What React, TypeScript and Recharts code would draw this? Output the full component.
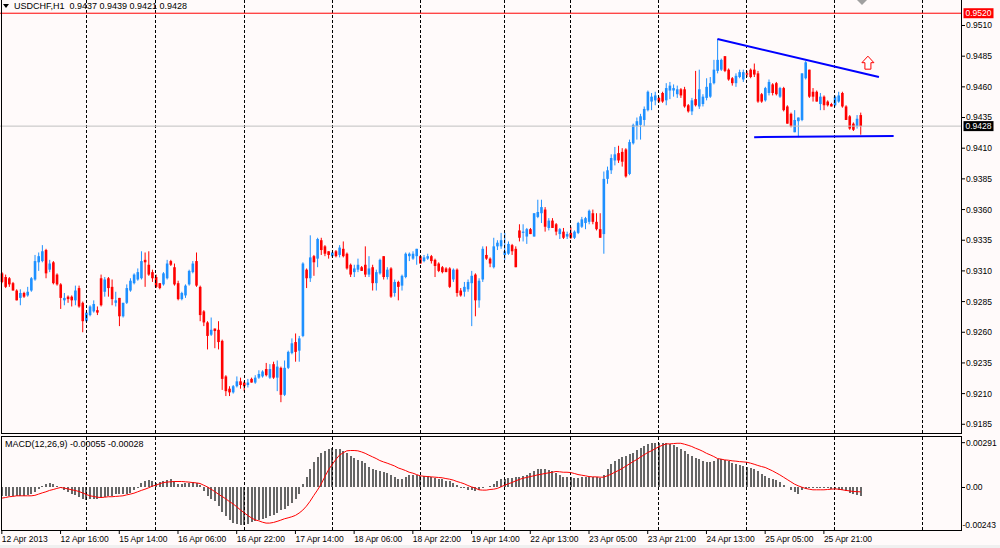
import React from "react";
import { ComposedChart, Bar, Line, XAxis, YAxis, ReferenceLine, ReferenceDot } from "recharts";

const FONT = "'Liberation Sans', Arial, sans-serif";
const BG = "#fffafa";
const BULL = "#1e90ff";
const BEAR = "#ff0000";

// USDCHF H1 bars, left to right
const opens = [
  0.9308, 0.9305, 0.9304, 0.9300, 0.9294, 0.9288, 0.9292, 0.9290, 0.9294, 0.9303,
  0.9317, 0.9318, 0.9327, 0.9311, 0.9317, 0.9307, 0.9299, 0.9286, 0.9289, 0.9289,
  0.9286, 0.9296, 0.9284, 0.9269, 0.9274, 0.9277, 0.9278, 0.9304, 0.9293, 0.9304,
  0.9297, 0.9284, 0.9288, 0.9273, 0.9284, 0.9294, 0.9300, 0.9303, 0.9304, 0.9319,
  0.9315, 0.9309, 0.9305, 0.9300, 0.9299, 0.9304, 0.9318, 0.9313, 0.9300, 0.9287,
  0.9290, 0.9299, 0.9309, 0.9318, 0.9297, 0.9277, 0.9268, 0.9258, 0.9263, 0.9262,
  0.9253, 0.9224, 0.9214, 0.9211, 0.9216, 0.9220, 0.9219, 0.9217, 0.9222, 0.9219,
  0.9223, 0.9224, 0.9230, 0.9223, 0.9234, 0.9223, 0.9231, 0.9209, 0.9231, 0.9243,
  0.9252, 0.9245, 0.9257, 0.9311, 0.9304, 0.9322, 0.9320, 0.9335, 0.9330, 0.9326,
  0.9322, 0.9326, 0.9323, 0.9328, 0.9324, 0.9315, 0.9309, 0.9311, 0.9313, 0.9315,
  0.9307, 0.9313, 0.9300, 0.9308, 0.9322, 0.9305, 0.9312, 0.9292, 0.9301, 0.9298,
  0.9305, 0.9322, 0.9320, 0.9322, 0.9322, 0.9318, 0.9320, 0.9322, 0.9319, 0.9316,
  0.9313, 0.9312, 0.9312, 0.9303, 0.9311, 0.9294, 0.9293, 0.9295, 0.9300, 0.9307,
  0.9286, 0.9303, 0.9323, 0.9320, 0.9313, 0.9330, 0.9330, 0.9323, 0.9324, 0.9331,
  0.9328, 0.9343, 0.9341, 0.9338, 0.9344, 0.9338, 0.9354, 0.9357, 0.9360, 0.9345,
  0.9351, 0.9348, 0.9340, 0.9342, 0.9338, 0.9341, 0.9337, 0.9341, 0.9346, 0.9349,
  0.9350, 0.9357, 0.9350, 0.9344, 0.9340, 0.9385, 0.9392, 0.9400, 0.9406, 0.9407,
  0.9409, 0.9389, 0.9414, 0.9428, 0.9429, 0.9433, 0.9441, 0.9448, 0.9449, 0.9451,
  0.9455, 0.9449, 0.9457, 0.9457, 0.9454, 0.9458, 0.9458, 0.9445, 0.9440, 0.9450,
  0.9444, 0.9446, 0.9451, 0.9452, 0.9463, 0.9473, 0.9474, 0.9485, 0.9474, 0.9467,
  0.9463, 0.9468, 0.9466, 0.9471, 0.9474, 0.9474, 0.9471, 0.9454, 0.9449, 0.9455,
  0.9462, 0.9463, 0.9452, 0.9459, 0.9444, 0.9438, 0.9423, 0.9432, 0.9433, 0.9467,
  0.9474, 0.9456, 0.9456, 0.9446, 0.9452, 0.9448, 0.9446, 0.9445, 0.9448, 0.9455,
  0.9444, 0.9436, 0.9430, 0.9428, 0.9437,
];

const highs = [
  0.9309, 0.9307, 0.9305, 0.9301, 0.9295, 0.9295, 0.9293, 0.9297, 0.9305, 0.9323,
  0.9325, 0.9331, 0.9328, 0.9319, 0.9318, 0.9308, 0.9300, 0.9292, 0.9290, 0.9290,
  0.9298, 0.9298, 0.9285, 0.9278, 0.9282, 0.9286, 0.9281, 0.9307, 0.9305, 0.9305,
  0.9303, 0.9293, 0.9288, 0.9284, 0.9299, 0.9304, 0.9308, 0.9312, 0.9326, 0.9325,
  0.9326, 0.9311, 0.9307, 0.9300, 0.9309, 0.9319, 0.9319, 0.9316, 0.9302, 0.9293,
  0.9299, 0.9311, 0.9318, 0.9325, 0.9298, 0.9278, 0.9269, 0.9272, 0.9263, 0.9269,
  0.9254, 0.9225, 0.9216, 0.9217, 0.9224, 0.9223, 0.9220, 0.9222, 0.9223, 0.9225,
  0.9229, 0.9229, 0.9235, 0.9234, 0.9236, 0.9237, 0.9232, 0.9237, 0.9245, 0.9255,
  0.9259, 0.9257, 0.9317, 0.9312, 0.9339, 0.9323, 0.9337, 0.9337, 0.9331, 0.9326,
  0.9325, 0.9327, 0.9331, 0.9334, 0.9325, 0.9316, 0.9315, 0.9320, 0.9314, 0.9330,
  0.9322, 0.9315, 0.9311, 0.9320, 0.9322, 0.9313, 0.9313, 0.9303, 0.9302, 0.9307,
  0.9325, 0.9325, 0.9326, 0.9328, 0.9323, 0.9323, 0.9324, 0.9323, 0.9320, 0.9317,
  0.9314, 0.9313, 0.9313, 0.9312, 0.9312, 0.9296, 0.9301, 0.9303, 0.9310, 0.9308,
  0.9304, 0.9330, 0.9330, 0.9321, 0.9337, 0.9335, 0.9341, 0.9341, 0.9334, 0.9332,
  0.9330, 0.9348, 0.9348, 0.9345, 0.9345, 0.9357, 0.9368, 0.9368, 0.9362, 0.9353,
  0.9353, 0.9349, 0.9345, 0.9345, 0.9342, 0.9346, 0.9343, 0.9350, 0.9354, 0.9354,
  0.9360, 0.9360, 0.9357, 0.9357, 0.9391, 0.9395, 0.9405, 0.9411, 0.9412, 0.9410,
  0.9410, 0.9417, 0.9430, 0.9435, 0.9438, 0.9444, 0.9457, 0.9455, 0.9456, 0.9452,
  0.9456, 0.9463, 0.9464, 0.9462, 0.9461, 0.9459, 0.9460, 0.9446, 0.9451, 0.9473,
  0.9474, 0.9454, 0.9467, 0.9468, 0.9482, 0.9499, 0.9483, 0.9485, 0.9475, 0.9468,
  0.9471, 0.9474, 0.9474, 0.9473, 0.9475, 0.9479, 0.9473, 0.9455, 0.9460, 0.9466,
  0.9463, 0.9464, 0.9460, 0.9460, 0.9445, 0.9439, 0.9441, 0.9435, 0.9471, 0.9481,
  0.9474, 0.9459, 0.9457, 0.9455, 0.9453, 0.9449, 0.9447, 0.9453, 0.9456, 0.9456,
  0.9445, 0.9437, 0.9431, 0.9437, 0.9439,
];

const lows = [
  0.9300, 0.9296, 0.9297, 0.9294, 0.9286, 0.9282, 0.9288, 0.9289, 0.9293, 0.9302,
  0.9310, 0.9317, 0.9304, 0.9309, 0.9299, 0.9298, 0.9279, 0.9282, 0.9284, 0.9281,
  0.9282, 0.9280, 0.9260, 0.9268, 0.9273, 0.9276, 0.9274, 0.9281, 0.9289, 0.9289,
  0.9282, 0.9281, 0.9265, 0.9272, 0.9283, 0.9293, 0.9299, 0.9302, 0.9303, 0.9297,
  0.9306, 0.9301, 0.9296, 0.9295, 0.9298, 0.9303, 0.9314, 0.9298, 0.9286, 0.9286,
  0.9288, 0.9298, 0.9308, 0.9297, 0.9269, 0.9265, 0.9246, 0.9257, 0.9247, 0.9246,
  0.9213, 0.9208, 0.9208, 0.9210, 0.9215, 0.9214, 0.9212, 0.9215, 0.9219, 0.9218,
  0.9222, 0.9223, 0.9224, 0.9222, 0.9222, 0.9212, 0.9203, 0.9208, 0.9230, 0.9242,
  0.9236, 0.9236, 0.9256, 0.9296, 0.9301, 0.9306, 0.9313, 0.9323, 0.9322, 0.9320,
  0.9321, 0.9321, 0.9321, 0.9321, 0.9311, 0.9305, 0.9305, 0.9309, 0.9310, 0.9305,
  0.9305, 0.9294, 0.9294, 0.9307, 0.9303, 0.9303, 0.9288, 0.9289, 0.9286, 0.9294,
  0.9304, 0.9318, 0.9319, 0.9315, 0.9316, 0.9317, 0.9319, 0.9316, 0.9305, 0.9309,
  0.9308, 0.9309, 0.9296, 0.9301, 0.9289, 0.9289, 0.9289, 0.9293, 0.9265, 0.9273,
  0.9280, 0.9301, 0.9319, 0.9313, 0.9312, 0.9327, 0.9328, 0.9319, 0.9323, 0.9323,
  0.9313, 0.9334, 0.9334, 0.9332, 0.9340, 0.9338, 0.9353, 0.9349, 0.9342, 0.9343,
  0.9345, 0.9339, 0.9336, 0.9336, 0.9336, 0.9336, 0.9336, 0.9340, 0.9345, 0.9344,
  0.9348, 0.9348, 0.9343, 0.9337, 0.9324, 0.9381, 0.9389, 0.9396, 0.9398, 0.9395,
  0.9386, 0.9388, 0.9413, 0.9417, 0.9417, 0.9428, 0.9440, 0.9441, 0.9445, 0.9447,
  0.9447, 0.9445, 0.9450, 0.9452, 0.9451, 0.9451, 0.9443, 0.9439, 0.9437, 0.9444,
  0.9442, 0.9444, 0.9449, 0.9451, 0.9462, 0.9471, 0.9473, 0.9472, 0.9465, 0.9461,
  0.9460, 0.9467, 0.9464, 0.9468, 0.9467, 0.9468, 0.9447, 0.9447, 0.9448, 0.9453,
  0.9453, 0.9453, 0.9451, 0.9440, 0.9430, 0.9427, 0.9423, 0.9419, 0.9432, 0.9466,
  0.9451, 0.9448, 0.9448, 0.9441, 0.9441, 0.9444, 0.9444, 0.9444, 0.9447, 0.9443,
  0.9433, 0.9425, 0.9424, 0.9426, 0.9421,
];

const closes = [
  0.9301, 0.9297, 0.9299, 0.9294, 0.9286, 0.9292, 0.9289, 0.9293, 0.9304, 0.9318,
  0.9322, 0.9326, 0.9308, 0.9316, 0.9300, 0.9299, 0.9288, 0.9288, 0.9287, 0.9286,
  0.9294, 0.9281, 0.9269, 0.9276, 0.9281, 0.9283, 0.9276, 0.9282, 0.9303, 0.9296,
  0.9287, 0.9286, 0.9273, 0.9284, 0.9296, 0.9302, 0.9307, 0.9309, 0.9318, 0.9317,
  0.9307, 0.9304, 0.9297, 0.9296, 0.9308, 0.9316, 0.9315, 0.9299, 0.9287, 0.9292,
  0.9298, 0.9310, 0.9316, 0.9298, 0.9274, 0.9268, 0.9257, 0.9262, 0.9261, 0.9252,
  0.9222, 0.9212, 0.9211, 0.9216, 0.9220, 0.9217, 0.9216, 0.9219, 0.9219, 0.9223,
  0.9226, 0.9228, 0.9225, 0.9230, 0.9223, 0.9232, 0.9209, 0.9231, 0.9244, 0.9251,
  0.9244, 0.9255, 0.9316, 0.9304, 0.9321, 0.9317, 0.9336, 0.9327, 0.9324, 0.9323,
  0.9325, 0.9322, 0.9329, 0.9322, 0.9312, 0.9307, 0.9312, 0.9315, 0.9310, 0.9307,
  0.9312, 0.9300, 0.9309, 0.9319, 0.9305, 0.9311, 0.9289, 0.9301, 0.9297, 0.9306,
  0.9324, 0.9324, 0.9324, 0.9328, 0.9316, 0.9321, 0.9322, 0.9318, 0.9314, 0.9310,
  0.9309, 0.9309, 0.9297, 0.9311, 0.9292, 0.9290, 0.9297, 0.9301, 0.9306, 0.9286,
  0.9302, 0.9328, 0.9320, 0.9316, 0.9330, 0.9333, 0.9335, 0.9326, 0.9332, 0.9326,
  0.9313, 0.9337, 0.9342, 0.9344, 0.9340, 0.9357, 0.9358, 0.9362, 0.9346, 0.9351,
  0.9345, 0.9342, 0.9344, 0.9337, 0.9340, 0.9337, 0.9342, 0.9349, 0.9352, 0.9353,
  0.9359, 0.9350, 0.9344, 0.9337, 0.9385, 0.9392, 0.9402, 0.9405, 0.9400, 0.9399,
  0.9387, 0.9415, 0.9429, 0.9432, 0.9436, 0.9442, 0.9456, 0.9452, 0.9453, 0.9448,
  0.9448, 0.9459, 0.9461, 0.9459, 0.9458, 0.9453, 0.9444, 0.9440, 0.9449, 0.9445,
  0.9458, 0.9452, 0.9460, 0.9463, 0.9474, 0.9482, 0.9482, 0.9473, 0.9466, 0.9463,
  0.9469, 0.9472, 0.9472, 0.9470, 0.9468, 0.9470, 0.9448, 0.9448, 0.9459, 0.9464,
  0.9455, 0.9454, 0.9459, 0.9441, 0.9430, 0.9428, 0.9433, 0.9435, 0.9471, 0.9480,
  0.9452, 0.9452, 0.9448, 0.9452, 0.9445, 0.9445, 0.9444, 0.9452, 0.9453, 0.9444,
  0.9433, 0.9426, 0.9425, 0.9434, 0.9428,
];

// MACD(12,26,9): main line drawn as histogram, signal as red line
const macdHist = [
  -0.00054, -0.00054, -0.00054, -0.00054, -0.00054, -0.00054, -0.00054, -0.0005, -0.00043, -0.00032,
  -0.00011, 0.00011, 0.00022, 0.00026, 0.00022, 0.00011, -0.00006, -0.00017, -0.00026, -0.00039,
  -0.0005, -0.00063, -0.00076, -0.0008, -0.00076, -0.00076, -0.00076, -0.00071, -0.00063, -0.00056,
  -0.00052, -0.00045, -0.00043, -0.00043, -0.00041, -0.00037, -0.00019, -0.00006, 0.00026, 0.00043,
  0.0005, 0.00041, 0.00032, 0.00037, 0.00043, 0.0005, 0.00054, 0.00041, 0.00024, 0.00024,
  0.0003, 0.00032, 0.00037, 0.00032, 0.00015, -0.00022, -0.00054, -0.00076, -0.00089, -0.00119,
  -0.00158, -0.00188, -0.00212, -0.00229, -0.0024, -0.00243, -0.00243, -0.00235, -0.00227, -0.0022,
  -0.00212, -0.00203, -0.00197, -0.00188, -0.00179, -0.00166, -0.00149, -0.00138, -0.00123, -0.00102,
  -0.00076, -0.00039, 0.00022, 0.00071, 0.00119, 0.00166, 0.00199, 0.00225, 0.0024, 0.00248,
  0.00255, 0.00253, 0.00248, 0.00238, 0.00222, 0.00207, 0.00192, 0.00181, 0.00171, 0.00158,
  0.00136, 0.00121, 0.00114, 0.00108, 0.00102, 0.00095, 0.00084, 0.00071, 0.00054, 0.00054,
  0.00069, 0.0008, 0.0008, 0.0008, 0.00076, 0.00076, 0.00073, 0.00069, 0.00063, 0.00056,
  0.00052, 0.00045, 0.00039, 0.00028, 0.00015, 0.0, -0.00006, -0.00013, -0.00017, -0.00024,
  -0.00019, -0.00004, 0.00006, 0.00011, 0.00022, 0.00043, 0.00054, 0.00054, 0.0006, 0.0006,
  0.00065, 0.00071, 0.00076, 0.00082, 0.00093, 0.00106, 0.00117, 0.00123, 0.00117, 0.00112,
  0.00106, 0.00097, 0.00084, 0.00071, 0.00067, 0.00065, 0.0006, 0.00063, 0.00069, 0.00071,
  0.00071, 0.00071, 0.00067, 0.0006, 0.00084, 0.00121, 0.00151, 0.00173, 0.00184, 0.00197,
  0.00205, 0.00216, 0.00227, 0.00244, 0.00257, 0.00272, 0.00285, 0.00291, 0.00291, 0.00291,
  0.00291, 0.00289, 0.00283, 0.00276, 0.00266, 0.00253, 0.00235, 0.00218, 0.00205, 0.00194,
  0.00184, 0.00171, 0.00164, 0.00168, 0.00175, 0.00186, 0.00188, 0.00179, 0.00173, 0.00162,
  0.00153, 0.00149, 0.0014, 0.00134, 0.00125, 0.00117, 0.00106, 0.00089, 0.00076, 0.00063,
  0.00056, 0.00048, 0.00035, 0.00017, 0.00006, -0.00013, -0.0003, -0.00041, -0.00019, -0.00009,
  -0.00002, -0.00004, -0.00004, -0.00004, -0.00004, -0.00006, -0.00009, -0.00011, -0.00013, -0.00017,
  -0.00024, -0.00037, -0.00045, -0.0005, -0.00055,
];

const macdSignal = [
  -0.00069, -0.00065, -0.0006, -0.00058, -0.00054, -0.00054, -0.00054, -0.00054, -0.00054, -0.00051,
  -0.00043, -0.00035, -0.00028, -0.00019, -0.00013, -0.00006, 0.0, -0.00004, -0.00009, -0.00015,
  -0.00019, -0.00026, -0.00035, -0.00045, -0.00054, -0.00058, -0.00063, -0.00065, -0.00063, -0.0006,
  -0.0006, -0.00058, -0.00056, -0.00054, -0.00048, -0.00043, -0.00037, -0.00028, -0.00019, -0.00011,
  -0.00002, 0.00009, 0.00015, 0.00024, 0.00032, 0.00035, 0.00037, 0.00039, 0.00039, 0.00039,
  0.00037, 0.00035, 0.00032, 0.0003, 0.00026, 0.00015, 0.00004, -0.00011, -0.00026, -0.00043,
  -0.00058, -0.00073, -0.00091, -0.00106, -0.00125, -0.00145, -0.00164, -0.00181, -0.00197, -0.0021,
  -0.00216, -0.00225, -0.00231, -0.00231, -0.00227, -0.0022, -0.00212, -0.00203, -0.00197, -0.0019,
  -0.00181, -0.00166, -0.00147, -0.00121, -0.00089, -0.00052, -0.00017, 0.00022, 0.00069, 0.00114,
  0.00149, 0.00181, 0.0021, 0.00225, 0.00238, 0.0024, 0.0024, 0.00238, 0.00231, 0.00222,
  0.0021, 0.00199, 0.00188, 0.00175, 0.00166, 0.00158, 0.00149, 0.0014, 0.00127, 0.00119,
  0.0011, 0.00099, 0.00093, 0.00084, 0.00076, 0.00073, 0.00071, 0.00069, 0.00067, 0.00065,
  0.00063, 0.00058, 0.00054, 0.00048, 0.00039, 0.00032, 0.00024, 0.00013, 0.00004, -0.00004,
  -0.00015, -0.00017, -0.00017, -0.00013, -0.00011, -0.00006, 0.00004, 0.00015, 0.00024, 0.00032,
  0.00043, 0.00052, 0.0006, 0.00065, 0.00071, 0.00076, 0.00082, 0.00086, 0.00091, 0.00095,
  0.00099, 0.00104, 0.00102, 0.00099, 0.00099, 0.00097, 0.00091, 0.00084, 0.0008, 0.00076,
  0.00071, 0.00069, 0.00069, 0.00067, 0.00067, 0.00076, 0.00086, 0.00099, 0.0011, 0.00123,
  0.00138, 0.00153, 0.00168, 0.00181, 0.00197, 0.00212, 0.00227, 0.00238, 0.00251, 0.00264,
  0.00274, 0.00283, 0.00283, 0.00285, 0.00287, 0.00287, 0.00281, 0.00274, 0.00266, 0.00255,
  0.00246, 0.00235, 0.00222, 0.00212, 0.00201, 0.00188, 0.00184, 0.00179, 0.00177, 0.00173,
  0.00171, 0.00168, 0.00166, 0.00164, 0.00158, 0.00151, 0.00143, 0.00136, 0.0013, 0.00119,
  0.00108, 0.00095, 0.00082, 0.00067, 0.00052, 0.00037, 0.00022, 0.00011, 0.00002, -0.00006,
  -0.00011, -0.00015, -0.00015, -0.00015, -0.00015, -0.00013, -0.00011, -0.00009, -0.00011, -0.00015,
  -0.00019, -0.00022, -0.00026, -0.00027, -0.00028,
];

const timeLabels = [
  "12 Apr 2013", "12 Apr 16:00", "15 Apr 14:00", "16 Apr 06:00", "16 Apr 22:00",
  "17 Apr 14:00", "18 Apr 06:00", "18 Apr 22:00", "19 Apr 14:00", "22 Apr 13:00",
  "23 Apr 05:00", "23 Apr 21:00", "24 Apr 13:00", "25 Apr 05:00", "25 Apr 21:00",
];
const labelBars = [0, 16, 32, 48, 64, 80, 96, 112, 128, 144, 160, 176, 192, 208, 224];
const daySeparators = [23, 42, 66, 90, 114, 137, 155, 179, 203, 227, 251];

const priceTicks = [0.951, 0.9485, 0.946, 0.9435, 0.941, 0.9385, 0.936, 0.9335, 0.931, 0.9285, 0.926, 0.9235, 0.921, 0.9185];
const ALERT_PRICE = 0.952;
const LAST_PRICE = 0.9428;
const macdTicks = [0.00291, 0, -0.00243];

const upperTrend = [{ bar: 195, price: 0.9499 }, { bar: 239, price: 0.9468 }];
const lowerTrend = [{ bar: 205, price: 0.9419 }, { bar: 243, price: 0.942 }];
const arrowMark = { bar: 236, price: 0.9485 };

const SLOTS = 262; // bar slots across the plot, including the empty shift on the right

const rows = Array.from({ length: SLOTS }, (_, i) =>
  i < closes.length
    ? {
        i,
        range: [lows[i], highs[i]],
        o: opens[i],
        h: highs[i],
        l: lows[i],
        c: closes[i],
        hist: macdHist[i],
        signal: macdSignal[i],
      }
    : { i }
);

function renderCandle(props: any) {
  const { x, y, width, height, payload } = props;
  if (!payload || payload.o == null) return <g />;
  const top = Math.min(y, y + height);
  const bot = Math.max(y, y + height);
  const span = payload.h - payload.l;
  const py = (p: number) => (span > 0 ? top + ((payload.h - p) / span) * (bot - top) : top);
  const cx = x + width / 2;
  const color = payload.c >= payload.o ? BULL : BEAR;
  const yo = py(payload.o);
  const yc = py(payload.c);
  const bodyTop = Math.min(yo, yc);
  const bodyH = Math.max(Math.abs(yc - yo), 1);
  return (
    <g>
      <line x1={cx} x2={cx} y1={top} y2={bot} stroke={color} strokeWidth={1} />
      <rect x={cx - 1.3} y={bodyTop} width={2.6} height={bodyH} fill={color} />
    </g>
  );
}

function renderHist(props: any) {
  const { x, y, width, height } = props;
  if (height == null || isNaN(y)) return <g />;
  const top = Math.min(y, y + height);
  const h = Math.abs(height);
  return <rect x={x + width / 2 - 1} y={top} width={2} height={Math.max(h, 0.8)} fill="#666666" shapeRendering="crispEdges" />;
}

function renderPriceTick(props: any) {
  const { y, payload } = props;
  const v = payload.value;
  if (v === ALERT_PRICE || v === LAST_PRICE) {
    return (
      <g>
        <rect x={963.5} y={y - 5} width={30} height={10} fill={v === ALERT_PRICE ? "#ff0000" : "#000000"} />
        <text x={965.5} y={y} dy="0.35em" fill="#ffffff" fontSize={8.5} fontFamily={FONT}>
          {v.toFixed(4)}
        </text>
      </g>
    );
  }
  return (
    <g>
      <line x1={962} x2={965} y1={y} y2={y} stroke="#000" />
      <text x={966} y={y} dy="0.35em" fill="#000" fontSize={8.5} fontFamily={FONT}>
        {v.toFixed(4)}
      </text>
    </g>
  );
}

function renderMacdTick(props: any) {
  const { y, payload } = props;
  const v = payload.value;
  const label = v === 0 ? "0.00" : v.toFixed(5);
  return (
    <g>
      {v >= 0 && <line x1={962} x2={965} y1={y} y2={y} stroke="#000" />}
      <text x={v < 0 ? 962.5 : 966} y={y} dy="0.35em" fill="#000" fontSize={8.5} fontFamily={FONT}>
        {label}
      </text>
    </g>
  );
}

function renderTimeTick(props: any) {
  const { x, payload } = props;
  const k = labelBars.indexOf(payload.value);
  if (k < 0) return <g />;
  return (
    <g>
      <line x1={x} x2={x} y1={95} y2={98} stroke="#000" />
      <text x={x} y={103.5} dy="0.35em" fill="#000" fontSize={8.5} fontFamily={FONT}>
        {timeLabels[k]}
      </text>
    </g>
  );
}

function renderArrow(props: any) {
  const { cx, cy } = props;
  return (
    <path
      d={`M${cx},${cy} l6,6.5 h-3 v6.5 h-6 v-6.5 h-3 z`}
      fill="#ffffff"
      stroke="#ff0000"
      strokeWidth={1}
    />
  );
}

export default function App() {
  return (
    <div style={{ position: "relative", width: 1000, height: 548, background: BG, overflow: "hidden", fontFamily: FONT }}>
      <style>{"body{margin:0;}"}</style>

      <div style={{ position: "absolute", left: 0, top: 0 }}>
        <ComposedChart
          width={1000}
          height={433}
          data={rows}
          margin={{ top: 0, right: 0, bottom: 0, left: 0 }}
          barCategoryGap={0}
          barGap={0}
        >
          <XAxis dataKey="i" type="category" hide />
          <YAxis
            orientation="right"
            width={38.5}
            type="number"
            domain={[0.917789, 0.953078]}
            allowDataOverflow
            ticks={[...priceTicks, LAST_PRICE, ALERT_PRICE]}
            interval={0}
            tick={renderPriceTick}
            tickLine={false}
            axisLine={false}
          />
          {daySeparators.map((b) => (
            <ReferenceLine key={b} x={b} stroke="#000" strokeDasharray="3 2" shapeRendering="crispEdges" />
          ))}
          <ReferenceLine y={ALERT_PRICE} stroke="#ff0000" strokeWidth={1} />
          <ReferenceLine y={LAST_PRICE} stroke="#c0c0c0" strokeWidth={1} />
          <Bar dataKey="range" shape={renderCandle} isAnimationActive={false} />
          <ReferenceLine
            segment={upperTrend.map((p) => ({ x: p.bar, y: p.price }))}
            stroke="#0000ff"
            strokeWidth={2}
          />
          <ReferenceLine
            segment={lowerTrend.map((p) => ({ x: p.bar, y: p.price }))}
            stroke="#0000ff"
            strokeWidth={2}
          />
          <ReferenceDot x={arrowMark.bar} y={arrowMark.price} r={6} shape={renderArrow} />
        </ComposedChart>
      </div>

      <div style={{ position: "absolute", left: 0, top: 436 }}>
        <ComposedChart
          width={1000}
          height={112}
          data={rows}
          margin={{ top: 0, right: 0, bottom: 0, left: 0 }}
          barCategoryGap={0}
          barGap={0}
        >
          <XAxis
            dataKey="i"
            type="category"
            interval={0}
            tick={renderTimeTick}
            tickLine={false}
            axisLine={false}
            height={18}
          />
          <YAxis
            orientation="right"
            width={38.5}
            type="number"
            domain={[-0.002758, 0.003342]}
            allowDataOverflow
            ticks={macdTicks}
            interval={0}
            tick={renderMacdTick}
            tickLine={false}
            axisLine={false}
          />
          {daySeparators.map((b) => (
            <ReferenceLine key={b} x={b} stroke="#000" strokeDasharray="3 2" shapeRendering="crispEdges" />
          ))}
          <Bar dataKey="hist" shape={renderHist} isAnimationActive={false} />
          <Line
            dataKey="signal"
            type="linear"
            stroke="#ff0000"
            strokeWidth={1}
            dot={false}
            isAnimationActive={false}
          />
        </ComposedChart>
      </div>

      {/* panel frames */}
      <div style={{ position: "absolute", left: 1, top: -1, width: 961, height: 435, border: "1px solid #000", boxSizing: "border-box", pointerEvents: "none" }} />
      <div style={{ position: "absolute", left: 1, top: 436, width: 961, height: 95, border: "1px solid #000", boxSizing: "border-box", pointerEvents: "none" }} />
      <div style={{ position: "absolute", left: 0, top: 545, width: 1000, height: 3, background: "#f0f0f0" }} />

      {/* headers */}
      <svg style={{ position: "absolute", left: 0, top: 0 }} width={1000} height={12}>
        <polygon points="3,4 9,4 6,8" fill="#000" />
        <polygon points="857,0 867,0 862,5" fill="#a0a0a0" />
      </svg>
      <div style={{ position: "absolute", left: 14, top: 1, fontSize: 9, lineHeight: "11px", whiteSpace: "pre", color: "#000" }}>
        {"USDCHF,H1  0.9437 0.9439 0.9421 0.9428"}
      </div>
      <div style={{ position: "absolute", left: 5, top: 439, fontSize: 9, lineHeight: "11px", whiteSpace: "pre", color: "#000" }}>
        {"MACD(12,26,9) -0.00055 -0.00028"}
      </div>
    </div>
  );
}
